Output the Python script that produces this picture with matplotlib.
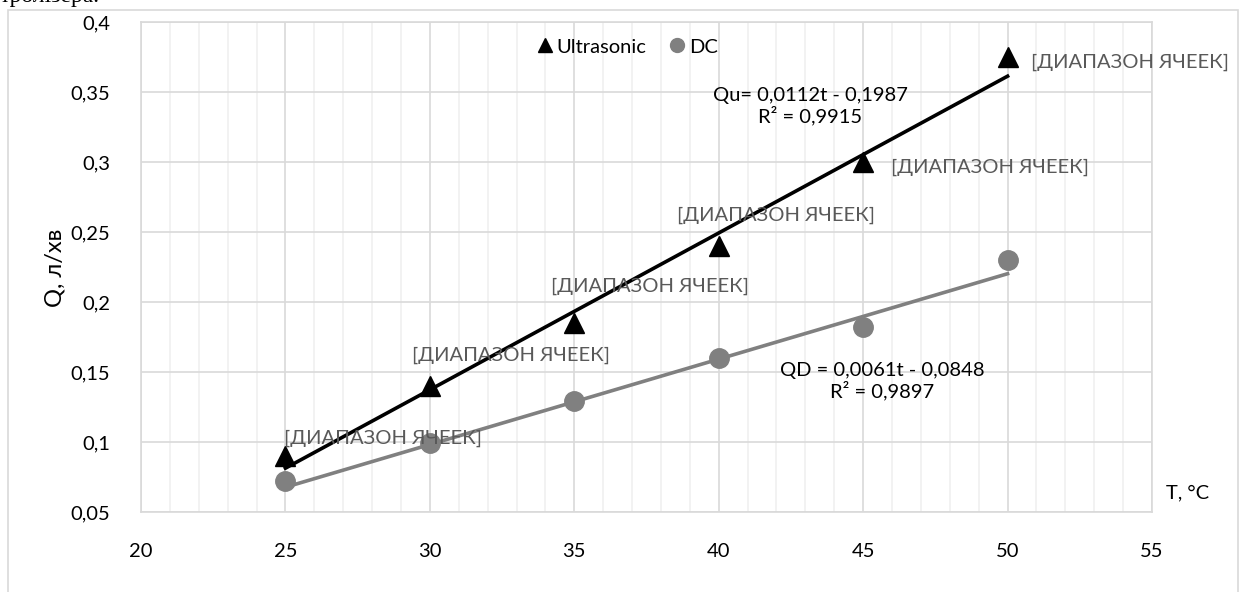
import matplotlib.pyplot as plt
import matplotlib.patches as patches
from matplotlib.lines import Line2D
import numpy as np

plt.rcParams['font.family'] = ['Lato', 'DejaVu Sans']

temps = [25, 30, 35, 40, 45, 50]
q_ultrasonic = [0.09, 0.14, 0.185, 0.24, 0.30, 0.375]
q_dc = [0.072, 0.099, 0.129, 0.16, 0.182, 0.23]

fit_ultrasonic = [0.0112, -0.1987]
fit_dc = [0.0061, -0.0848]

point_label = "[ДИАПАЗОН ЯЧЕЕК]"
eq_ultrasonic = "Qu= 0,0112t - 0,1987\nR² = 0,9915"
eq_dc = "QD = 0,0061t - 0,0848\nR² = 0,9897"

x_ticks = [20, 25, 30, 35, 40, 45, 50, 55]
y_ticks = [0.05, 0.1, 0.15, 0.2, 0.25, 0.3, 0.35, 0.4]


def comma(value):
    text = ("%.2f" % value).rstrip("0").rstrip(".")
    return text.replace(".", ",")


def main():
    fig = plt.figure(figsize=(12.43, 5.92), dpi=100)
    ax = fig.add_axes([141 / 1243, 1 - 512 / 592, (1152 - 141) / 1243, (512 - 22) / 592])

    # chart area frame
    fig.patches.append(patches.Rectangle((8 / 1243, -0.1), (1238 - 8) / 1243, 1.1 - 10 / 592,
                                         transform=fig.transFigure, fill=False,
                                         edgecolor="#d9d9d9", linewidth=1.2))
    fig.text(0.0, 1 - 2 / 592, "тролізера.", family="Liberation Serif", fontsize=17,
             va="baseline", ha="left")

    ax.set_xlim(20, 55)
    ax.set_ylim(0.05, 0.4)
    ax.set_xticks(x_ticks)
    ax.set_xticks(np.arange(20, 56, 1), minor=True)
    ax.set_yticks(y_ticks)
    ax.set_xticklabels([str(t) for t in x_ticks])
    ax.set_yticklabels([comma(v) for v in y_ticks])
    ax.tick_params(which="both", length=0, labelsize=14.5)
    ax.tick_params(axis="x", pad=22)
    ax.tick_params(axis="y", pad=22)
    ax.grid(which="minor", axis="x", color="#f0f0f0", linewidth=1.2)
    ax.grid(which="major", axis="x", color="#d9d9d9", linewidth=1.2)
    ax.grid(which="major", axis="y", color="#d9d9d9", linewidth=1.2)
    ax.set_axisbelow(True)
    for spine in ax.spines.values():
        spine.set_color("#d9d9d9")
        spine.set_linewidth(1.2)

    t_line = np.array([temps[0], temps[-1]])
    ax.plot(t_line, np.polyval(fit_ultrasonic, t_line), color="black", linewidth=2.6, zorder=3)
    ax.plot(t_line, np.polyval(fit_dc, t_line), color="#808080", linewidth=2.6, zorder=3)
    ax.plot(temps, q_ultrasonic, "^", color="black", markersize=14, zorder=4)
    ax.plot(temps, q_dc, "o", color="#808080", markersize=14, zorder=4)

    offsets = [(98, 18), (81, 31), (76, 37), (57, 31), (127, -5), (122, -5)]
    for t, q, (dx, dy) in zip(temps, q_ultrasonic, offsets):
        ax.annotate(point_label, (t, q), xytext=(dx, dy), textcoords="offset pixels",
                    ha="center", va="center", fontsize=14.5, color="#595959", zorder=5)

    ax.text((810 - 141) / 1011, (512 - 106) / 490, eq_ultrasonic, transform=ax.transAxes,
            ha="center", va="center", fontsize=14.5, linespacing=1.1)
    ax.text((882 - 141) / 1011, (512 - 381) / 490, eq_dc, transform=ax.transAxes,
            ha="center", va="center", fontsize=14.5, linespacing=1.1)

    ax.text((1188 - 141) / 1011, (512 - 493) / 490, "T, °C", transform=ax.transAxes,
            ha="center", va="center", fontsize=14.5, clip_on=False)
    fig.text(55 / 1243, 1 - 268 / 592, "Q, л/хв", rotation=90, ha="center", va="center",
             fontsize=17)

    handles = [
        Line2D([], [], marker="^", linestyle="none", color="black", markersize=10),
        Line2D([], [], marker="o", linestyle="none", color="#808080", markersize=10),
    ]
    ax.legend(handles, ["Ultrasonic", "DC"], loc="center", bbox_to_anchor=(0.48, 0.949),
              ncol=2, frameon=False, fontsize=14.5, handletextpad=0.1, columnspacing=1.0,
              handlelength=1.0)

    fig.savefig("out.png", dpi=100)


if __name__ == "__main__":
    main()
